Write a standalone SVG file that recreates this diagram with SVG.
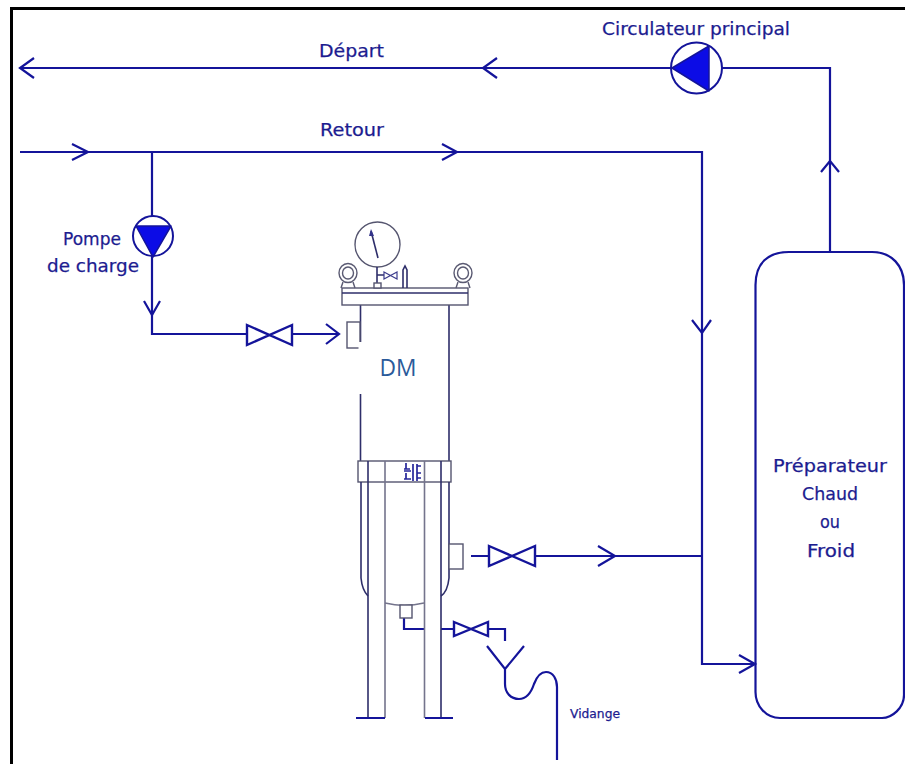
<svg xmlns="http://www.w3.org/2000/svg" width="905" height="764" viewBox="0 0 905 764">
<style>
.p{fill:none;stroke:#14149a;stroke-width:2.2;stroke-linejoin:miter}
.v{fill:#fff;stroke:#14149a;stroke-width:2.4}
.t{fill:none;stroke:#2e2e6a;stroke-width:1.6}
.g{fill:none;stroke:#74748c;stroke-width:1.6}
.b{fill:#fff;stroke:#55556f;stroke-width:1.4}
.f{fill:#0c0ce6;stroke:#14149a;stroke-width:1.5;stroke-linejoin:round}
text{font-family:"DejaVu Sans","Liberation Sans",sans-serif;font-size:18px;fill:#1c1c90;stroke:#1c1c90;stroke-width:.25}
</style>
<rect width="905" height="764" fill="#fff"/>
<path d="M11.500 764V8.500H905" fill="none" stroke="#000" stroke-width="3"/>
<g id="preparateur">
<path d="M755.500 285C755.500 263 768 252 789 252H872C892 252 904 266 904 285V695C904 708 892 718 882 718H780C766 718 755.500 706 755.500 692Z" fill="#fff" stroke="#14149a" stroke-width="2.200"/>
<text x="773" y="472" textLength="114" lengthAdjust="spacingAndGlyphs">Préparateur</text>
<text x="802" y="500" textLength="56" lengthAdjust="spacingAndGlyphs">Chaud</text>
<text x="820" y="528" textLength="20" lengthAdjust="spacingAndGlyphs">ou</text>
<text x="807" y="557" textLength="48" lengthAdjust="spacingAndGlyphs">Froid</text>
</g>
<g id="connectors">
<path class="p" d="M20 68H671M722 68H830V252"/>
<path class="p" d="M34 58L20 68L34 78M497 58L483 68L497 78M821 172L830 161L839 172"/>
<path class="p" d="M20 152H702V664H755"/>
<path class="p" d="M72 144L88 152L72 160M442 144L457 152L442 160M692 320L702 333L711 320M739 655L755 664L739 673"/>
<path class="p" d="M152 152V217M152 256V334H247M292 334H339"/>
<path class="p" d="M144 301L152 315L160 301M326 324L339 334L326 344"/>
<path class="p" d="M471 556H489M535 556H702M598 546L615 556L598 566"/>
<path class="p" d="M404 617V629H424M441 629H454M488 629H505V641"/>
<path class="p" d="M487 646L505 669L524 646M505 669V684C505 693 511 699 519 699C527 699 531 693 534 684C537 676 541 672 546 672C553 672 557 679 557 687V760"/>
</g>
<g id="pump-principal">
<circle cx="696.500" cy="68" r="25.500" fill="#fff" stroke="#14149a" stroke-width="2"/>
<path class="f" d="M672 68L709 46V91Z"/>
</g>
<g id="pump-charge">
<circle cx="153" cy="236" r="20" fill="#fff" stroke="#14149a" stroke-width="2"/>
<path class="f" d="M136 226H171L153 257Z"/>
</g>
<g id="valve-charge"><path class="v" d="M247 325L292 345V325L247 345Z"/></g>
<g id="valve-retour"><path class="v" d="M489 546L535 566V546L489 566Z"/></g>
<g id="valve-vidange"><path class="v" d="M454 622L488 636V622L454 636Z"/></g>
<g id="tank">
<path class="t" d="M360.500 305V461M449 305V461"/>
<rect class="b" x="347" y="322" width="13" height="26"/>
<rect class="b" x="342" y="288" width="126" height="17"/>
<path class="t" d="M342 293H468"/>
<rect class="b" x="358" y="461" width="93" height="21"/>
<path class="t" d="M361 482V578C362 588 366 594 368 596M449 482V578C448 588 444 594 441 596"/>
<path class="g" d="M385 603C397 606 412 606 424 603"/>
<rect class="b" x="449" y="544" width="14" height="25"/>
<rect class="b" x="400" y="605" width="12" height="13"/>
<path d="M406 463v6M404 469h6M404 471h7M406 473v6M404 479h7M413 464v17M417 464v17M421 466h-4M421 473h-4M421 478h-4" fill="none" stroke="#26269a" stroke-width="1.7"/>
<path class="t" d="M368 461V718M441 461V718"/>
<path class="g" d="M385 461V718M424.500 461V718"/>
<path class="p" d="M356 718H385M425 718H453"/>
<rect x="358.500" y="342" width="60" height="52" fill="#fff"/>
<circle class="b" cx="377.500" cy="244.500" r="22.500"/>
<path class="t" d="M378 258L371 231"/>
<path d="M371 229L369 236H374Z" fill="#33338a"/>
<path class="t" d="M377 267V283M377 275H384"/>
<rect class="b" x="374" y="283" width="7" height="5"/>
<path d="M384 272L397 279V272L384 279Z" fill="#fff" stroke="#3c3c8c" stroke-width="1.2"/>
<path class="t" d="M403 288V270L405 266L407 270V288"/>
<g fill="none" stroke="#5a5a72" stroke-width="1.400">
<ellipse cx="348" cy="273" rx="9" ry="9.500"/><ellipse cx="348" cy="273" rx="5.500" ry="6"/><path d="M343 282L341 288M353 282L355 288"/>
<ellipse cx="463" cy="273" rx="9" ry="9.500"/><ellipse cx="463" cy="273" rx="5.500" ry="6"/><path d="M458 282L456 288M468 282L470 288"/>
</g>
<text x="398" y="376" text-anchor="middle" style="font-family:'Open Sans','Liberation Sans',sans-serif;font-size:23px;fill:#2a5a9a;stroke:none" textLength="37" lengthAdjust="spacingAndGlyphs">DM</text>
</g>
<g id="labels">
<text x="319" y="57" textLength="65" lengthAdjust="spacingAndGlyphs">Départ</text>
<text x="320" y="136" textLength="64" lengthAdjust="spacingAndGlyphs">Retour</text>
<text x="602" y="35" textLength="188" lengthAdjust="spacingAndGlyphs">Circulateur principal</text>
<text x="63" y="245" textLength="58" lengthAdjust="spacingAndGlyphs">Pompe</text>
<text x="47" y="272" textLength="92" lengthAdjust="spacingAndGlyphs">de charge</text>
<text x="570" y="718" textLength="50" lengthAdjust="spacingAndGlyphs" style="font-size:12px">Vidange</text>
</g>
</svg>
